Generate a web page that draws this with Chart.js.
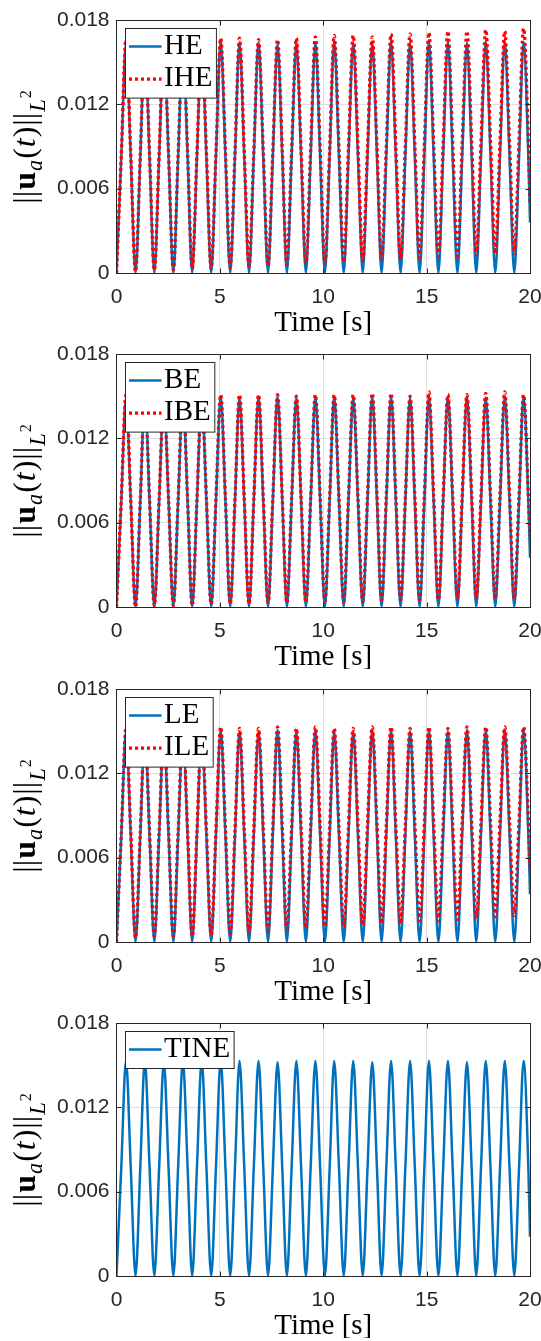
<!DOCTYPE html>
<html>
<head>
<meta charset="utf-8">
<script src="https://cdn.jsdelivr.net/npm/chart.js@4.4.0/dist/chart.umd.min.js"></script>
<style>
    body { margin: 0; background: #ffffff; }
    #contenedor { position: relative; width: 541px; height: 1341px; }
    #contenedor canvas { position: absolute; left: 0; }
</style>
</head>
<body>
<div id="contenedor">
    <canvas id="graficoHE" width="541" height="335" style="top:0px"></canvas>
    <canvas id="graficoBE" width="541" height="335" style="top:334px"></canvas>
    <canvas id="graficoLE" width="541" height="335" style="top:669px"></canvas>
    <canvas id="graficoTINE" width="541" height="335" style="top:1003px"></canvas>
</div>
<script>

// instantes de muestreo [s], comunes a todas las curvas
const tiempoS = [
    0, 0.23, 0.46, 0.69, 0.92, 1.15, 1.37, 1.6, 1.83, 2.06, 2.29, 2.52, 2.75, 2.98, 3.21, 3.44,
    3.66, 3.89, 4.12, 4.35, 4.58, 4.81, 5.04, 5.27, 5.5, 5.73, 5.95, 6.18, 6.41, 6.64, 6.87, 7.1,
    7.33, 7.56, 7.79, 8.02, 8.24, 8.47, 8.7, 8.93, 9.16, 9.39, 9.62, 9.85, 10.08, 10.31, 10.53, 10.76,
    10.99, 11.22, 11.45, 11.68, 11.91, 12.14, 12.37, 12.6, 12.82, 13.05, 13.28, 13.51, 13.74, 13.97,
    14.2, 14.43, 14.66, 14.89, 15.11, 15.34, 15.57, 15.8, 16.03, 16.26, 16.49, 16.72, 16.95, 17.18,
    17.4, 17.63, 17.86, 18.09, 18.32, 18.55, 18.78, 19.01, 19.24, 19.47, 19.69, 19.92, 20
];

const normaHE = [
    0, 0.0082, 0.0164, 0.0082, 0, 0.0082, 0.0164, 0.0082, 0, 0.0082, 0.0163, 0.0082, 0, 0.0082, 0.0164, 0.0082, 0, 0.0082, 0.0164, 0.0082,
    0, 0.0083, 0.0165, 0.0082, 0, 0.0082, 0.0164, 0.0082, 0, 0.0082, 0.0164, 0.0082, 0, 0.0082, 0.0163, 0.0082, 0, 0.0082, 0.0164, 0.0082,
    0, 0.0082, 0.0164, 0.0082, 0, 0.0083, 0.0165, 0.0082, 0, 0.0082, 0.0164, 0.0082, 0, 0.0082, 0.0164, 0.0082, 0, 0.0083, 0.0165, 0.0082,
    0, 0.0082, 0.0164, 0.0082, 0, 0.0083, 0.0165, 0.0083, 0, 0.0083, 0.0165, 0.0082, 0, 0.0082, 0.0164, 0.0082, 0, 0.0083, 0.0165, 0.0083,
    0, 0.0083, 0.0165, 0.0082, 0, 0.0082, 0.0164, 0.0082, 0.0036
];
const normaIHE = [
    0, 0.0083, 0.0166, 0.0084, 0.0001, 0.0084, 0.0166, 0.0084, 0.0002, 0.0084, 0.0165, 0.0084, 0.0002, 0.0084, 0.0166, 0.0085, 0.0003, 0.0085, 0.0166, 0.0085,
    0.0003, 0.0085, 0.0167, 0.0086, 0.0004, 0.0086, 0.0167, 0.0086, 0.0005, 0.0086, 0.0166, 0.0086, 0.0005, 0.0086, 0.0166, 0.0086, 0.0006, 0.0087, 0.0167, 0.0087,
    0.0007, 0.0088, 0.0168, 0.0088, 0.0007, 0.0088, 0.0169, 0.0089, 0.0008, 0.0089, 0.0169, 0.0089, 0.0009, 0.0089, 0.0168, 0.0089, 0.0010, 0.0090, 0.0170, 0.0090,
    0.0010, 0.0090, 0.0170, 0.0091, 0.0011, 0.0091, 0.0171, 0.0092, 0.0012, 0.0092, 0.0172, 0.0092, 0.0012, 0.0092, 0.0172, 0.0093, 0.0013, 0.0093, 0.0173, 0.0094,
    0.0014, 0.0093, 0.0172, 0.0093, 0.0014, 0.0094, 0.0174, 0.0094, 0.0050
];
const normaBE = [
    0, 0.0075, 0.0149, 0.0075, 0, 0.0075, 0.0150, 0.0075, 0, 0.0075, 0.0149, 0.0075, 0, 0.0075, 0.0150, 0.0075, 0, 0.0075, 0.0150, 0.0075,
    0, 0.0075, 0.0150, 0.0075, 0, 0.0075, 0.0149, 0.0075, 0, 0.0075, 0.0150, 0.0075, 0, 0.0075, 0.0150, 0.0075, 0, 0.0075, 0.0149, 0.0075,
    0, 0.0075, 0.0150, 0.0075, 0, 0.0075, 0.0150, 0.0075, 0, 0.0075, 0.0149, 0.0075, 0, 0.0075, 0.0150, 0.0075, 0, 0.0075, 0.0150, 0.0075,
    0, 0.0075, 0.0149, 0.0075, 0, 0.0075, 0.0150, 0.0075, 0, 0.0075, 0.0150, 0.0075, 0, 0.0075, 0.0150, 0.0075, 0, 0.0075, 0.0149, 0.0075,
    0, 0.0075, 0.0150, 0.0075, 0, 0.0075, 0.0150, 0.0075, 0.0035
];
const normaIBE = [
    0, 0.0076, 0.0151, 0.0076, 0, 0.0076, 0.0151, 0.0076, 0.0001, 0.0076, 0.0150, 0.0076, 0.0001, 0.0076, 0.0151, 0.0076, 0.0001, 0.0076, 0.0151, 0.0077,
    0.0002, 0.0077, 0.0151, 0.0077, 0.0002, 0.0077, 0.0151, 0.0077, 0.0002, 0.0077, 0.0151, 0.0077, 0.0003, 0.0077, 0.0151, 0.0077, 0.0003, 0.0077, 0.0150, 0.0077,
    0.0003, 0.0077, 0.0151, 0.0078, 0.0004, 0.0078, 0.0151, 0.0078, 0.0004, 0.0078, 0.0151, 0.0078, 0.0004, 0.0078, 0.0152, 0.0079, 0.0005, 0.0079, 0.0152, 0.0079,
    0.0005, 0.0078, 0.0150, 0.0078, 0.0005, 0.0079, 0.0153, 0.0079, 0.0005, 0.0078, 0.0151, 0.0079, 0.0006, 0.0079, 0.0151, 0.0079, 0.0006, 0.0079, 0.0152, 0.0079,
    0.0006, 0.0080, 0.0153, 0.0080, 0.0006, 0.0079, 0.0151, 0.0079, 0.0050
];
const normaLE = [
    0, 0.0075, 0.0150, 0.0075, 0, 0.0075, 0.0150, 0.0075, 0, 0.0075, 0.0149, 0.0075, 0, 0.0075, 0.0150, 0.0075, 0, 0.0075, 0.0150, 0.0075,
    0, 0.0076, 0.0151, 0.0075, 0, 0.0075, 0.0150, 0.0075, 0, 0.0075, 0.0150, 0.0075, 0, 0.0076, 0.0151, 0.0075, 0, 0.0075, 0.0150, 0.0075,
    0, 0.0076, 0.0151, 0.0075, 0, 0.0075, 0.0150, 0.0075, 0, 0.0075, 0.0150, 0.0075, 0, 0.0076, 0.0151, 0.0076, 0, 0.0076, 0.0151, 0.0075,
    0, 0.0075, 0.0150, 0.0075, 0, 0.0076, 0.0151, 0.0075, 0, 0.0075, 0.0150, 0.0075, 0, 0.0076, 0.0151, 0.0076, 0, 0.0076, 0.0151, 0.0076,
    0, 0.0076, 0.0151, 0.0076, 0, 0.0076, 0.0151, 0.0076, 0.0034
];
const normaILE = [
    0, 0.0076, 0.0152, 0.0078, 0.0003, 0.0078, 0.0152, 0.0078, 0.0004, 0.0078, 0.0151, 0.0078, 0.0004, 0.0078, 0.0152, 0.0078, 0.0004, 0.0078, 0.0152, 0.0079,
    0.0005, 0.0079, 0.0153, 0.0080, 0.0006, 0.0079, 0.0152, 0.0080, 0.0007, 0.0080, 0.0152, 0.0080, 0.0008, 0.0081, 0.0153, 0.0081, 0.0009, 0.0081, 0.0152, 0.0081,
    0.0010, 0.0082, 0.0153, 0.0082, 0.0011, 0.0082, 0.0152, 0.0082, 0.0011, 0.0082, 0.0152, 0.0083, 0.0012, 0.0083, 0.0153, 0.0083, 0.0013, 0.0083, 0.0153, 0.0083,
    0.0013, 0.0083, 0.0152, 0.0084, 0.0015, 0.0084, 0.0153, 0.0084, 0.0015, 0.0084, 0.0152, 0.0084, 0.0016, 0.0085, 0.0153, 0.0085, 0.0016, 0.0085, 0.0153, 0.0086,
    0.0018, 0.0086, 0.0153, 0.0086, 0.0019, 0.0086, 0.0153, 0.0086, 0.0050
];
const normaTINE = [
    0, 0.0077, 0.0153, 0.0077, 0, 0.0077, 0.0153, 0.0077, 0, 0.0076, 0.0152, 0.0076, 0, 0.0077, 0.0153, 0.0077, 0, 0.0077, 0.0153, 0.0077,
    0, 0.0077, 0.0153, 0.0077, 0, 0.0077, 0.0153, 0.0077, 0, 0.0077, 0.0153, 0.0077, 0, 0.0076, 0.0152, 0.0076, 0, 0.0077, 0.0153, 0.0077,
    0, 0.0077, 0.0153, 0.0077, 0, 0.0077, 0.0153, 0.0077, 0, 0.0077, 0.0153, 0.0077, 0, 0.0076, 0.0152, 0.0076, 0, 0.0077, 0.0153, 0.0077,
    0, 0.0077, 0.0153, 0.0077, 0, 0.0077, 0.0153, 0.0077, 0, 0.0077, 0.0153, 0.0077, 0, 0.0076, 0.0152, 0.0076, 0, 0.0077, 0.0153, 0.0077,
    0, 0.0077, 0.0153, 0.0077, 0, 0.0077, 0.0153, 0.0077, 0.0028
];

const ticksX = [0, 5, 10, 15, 20];
const etiquetasX = ['0', '5', '10', '15', '20'];
const ticksY = [0, 0.006, 0.012, 0.018];
const etiquetasY = ['0', '0.006', '0.012', '0.018'];

const azulMatlab = '#0072BD';
const rojo = '#FF0000';


// caja completa y marcas hacia dentro, como en matlab
const marcoEjes = {
    id: 'marcoEjes',
    afterDatasetsDraw(chart) {
        const ctx = chart.ctx;
        const a = chart.chartArea;
        const l = Math.floor(a.left) + 0.5, r = Math.floor(a.right) + 0.5;
        const t = Math.floor(a.top) + 0.5, b = Math.floor(a.bottom) + 0.5;
        ctx.save();
        ctx.strokeStyle = '#262626';
        ctx.lineWidth = 1;
        ctx.strokeRect(l, t, r - l, b - t);
        ctx.beginPath();
        ticksX.slice(1, -1).forEach(v => {
            const px = Math.round(chart.scales.x.getPixelForValue(v)) + 0.5;
            ctx.moveTo(px, b); ctx.lineTo(px, b - 5);
            ctx.moveTo(px, t); ctx.lineTo(px, t + 5);
        });
        ticksY.slice(1, -1).forEach(v => {
            const py = Math.round(chart.scales.y.getPixelForValue(v)) + 0.5;
            ctx.moveTo(l, py); ctx.lineTo(l + 5, py);
            ctx.moveTo(r, py); ctx.lineTo(r - 5, py);
        });
        ctx.stroke();
        ctx.restore();
    }
};

// leyenda dentro del area, arriba a la izquierda
const leyendaInterior = {
    id: 'leyendaInterior',
    afterDraw(chart) {
        const ctx = chart.ctx;
        const a = chart.chartArea;
        const series = chart.data.datasets;
        ctx.save();
        ctx.font = '29px "Liberation Serif"';
        let anchoTexto = Math.max(...series.map(d => ctx.measureText(d.label).width));
        const x0 = Math.floor(a.left + 9) + 0.5;
        const y0 = Math.floor(a.top + 8.5) + 0.5;
        const alto = 37 + 32.6 * (series.length - 1);
        const ancho = 38.6 + anchoTexto + 4;
        ctx.fillStyle = '#ffffff';
        ctx.fillRect(x0, y0, ancho, alto);
        ctx.strokeStyle = '#262626';
        ctx.lineWidth = 1;
        ctx.strokeRect(x0, y0, ancho, alto);
        series.forEach((d, i) => {
            const yc = y0 + 18 + 32.6 * i;
            ctx.beginPath();
            ctx.setLineDash(d.borderDash || []);
            ctx.strokeStyle = d.borderColor;
            ctx.lineWidth = d.borderWidth;
            ctx.moveTo(x0 + 3.5, yc);
            ctx.lineTo(x0 + 36, yc);
            ctx.stroke();
            ctx.setLineDash([]);
            ctx.fillStyle = '#000000';
            ctx.textBaseline = 'middle';
            ctx.textAlign = 'left';
            ctx.fillText(d.label, x0 + 38.6, yc - 0.5);
        });
        ctx.restore();
    }
};

// ||u_a(t)||_{L^2} girado
const partesEtiquetaY = [
    { texto: '||', estilo: '', escala: 1, baja: 0 },
    { texto: 'u', estilo: 'bold ', escala: 1, baja: 0 },
    { texto: 'a', estilo: 'italic ', escala: 0.7, baja: 0.22 },
    { texto: '(', estilo: '', escala: 1, baja: 0 },
    { texto: 't', estilo: 'italic ', escala: 1, baja: 0 },
    { texto: ')', estilo: '', escala: 1, baja: 0 },
    { texto: '||', estilo: '', escala: 1, baja: 0 },
    { texto: 'L', estilo: 'italic ', escala: 0.7, baja: 0.3 },
    { texto: '2', estilo: '', escala: 0.5, baja: -0.12 }
];

const etiquetaEjeY = {
    id: 'etiquetaEjeY',
    afterDraw(chart) {
        const ctx = chart.ctx;
        const a = chart.chartArea;
        const f = 32;
        ctx.save();
        let total = 0;
        partesEtiquetaY.forEach(p => {
            ctx.font = p.estilo + (f * p.escala) + 'px "Liberation Serif"';
            p.ancho = ctx.measureText(p.texto).width + 1;
            total += p.ancho;
        });
        ctx.translate(35, (a.top + a.bottom) / 2);
        ctx.rotate(-Math.PI / 2);
        ctx.fillStyle = '#000000';
        ctx.textBaseline = 'alphabetic';
        ctx.textAlign = 'left';
        let x = -total / 2;
        partesEtiquetaY.forEach(p => {
            ctx.font = p.estilo + (f * p.escala) + 'px "Liberation Serif"';
            ctx.fillText(p.texto, x, p.baja * f);
            x += p.ancho;
        });
        ctx.restore();
    }
};


function puntos(valores) {
    return tiempoS.map((t, i) => ({ x: t, y: valores[i] }));
}

function serieContinua(nombre, valores) {
    return {
        label: nombre,
        data: puntos(valores),
        borderColor: azulMatlab,
        borderWidth: 2.5,
        pointRadius: 0,
        cubicInterpolationMode: 'monotone',
        fill: false,
        order: 1
    };
}

function seriePunteada(nombre, valores) {
    return {
        label: nombre,
        data: puntos(valores),
        borderColor: rojo,
        borderWidth: 3.3,
        borderDash: [3, 3],
        pointRadius: 0,
        cubicInterpolationMode: 'monotone',
        fill: false,
        order: 0
    };
}

function graficar(idCanvas, series) {

    const ctx = document.getElementById(idCanvas);

    return new Chart(ctx, {
        type: 'line',
        data: { datasets: series },
        options: {
            responsive: false,
            animation: false,
            devicePixelRatio: 1,
            layout: { padding: { left: 0, right: 11, top: 20, bottom: 0 } },
            plugins: {
                legend: { display: false },
                tooltip: { enabled: false }
            },
            scales: {
                x: {
                    type: 'linear',
                    min: 0,
                    max: 20,
                    afterBuildTicks: (scale) => { scale.ticks = ticksX.map(v => ({ value: v })); },
                    afterFit: (scale) => { scale.height = 62; scale.paddingLeft = 0; scale.paddingRight = 0; },
                    ticks: {
                        callback: (value, index) => etiquetasX[index],
                        font: { family: '"Liberation Sans", Arial, sans-serif', size: 21 },
                        color: '#262626',
                        padding: 12,
                        maxRotation: 0
                    },
                    grid: { color: '#dfdfdf', lineWidth: 1, drawTicks: false },
                    border: { display: false },
                    title: {
                        display: true,
                        text: 'Time [s]',
                        font: { family: '"Liberation Serif"', size: 29, lineHeight: 0.8 },
                        color: '#000000',
                        padding: 0
                    }
                },
                y: {
                    type: 'linear',
                    min: 0,
                    max: 0.018,
                    afterBuildTicks: (scale) => { scale.ticks = ticksY.map(v => ({ value: v })); },
                    afterFit: (scale) => { scale.width = 116.5; },
                    ticks: {
                        callback: (value, index) => etiquetasY[index],
                        font: { family: '"Liberation Sans", Arial, sans-serif', size: 21 },
                        color: '#262626',
                        padding: 7
                    },
                    grid: { color: '#dfdfdf', lineWidth: 1, drawTicks: false },
                    border: { display: false }
                }
            }
        },
        plugins: [marcoEjes, leyendaInterior, etiquetaEjeY]
    });
}

graficar('graficoHE', [serieContinua('HE', normaHE), seriePunteada('IHE', normaIHE)]);
graficar('graficoBE', [serieContinua('BE', normaBE), seriePunteada('IBE', normaIBE)]);
graficar('graficoLE', [serieContinua('LE', normaLE), seriePunteada('ILE', normaILE)]);
graficar('graficoTINE', [serieContinua('TINE', normaTINE)]);

</script>
</body>
</html>
